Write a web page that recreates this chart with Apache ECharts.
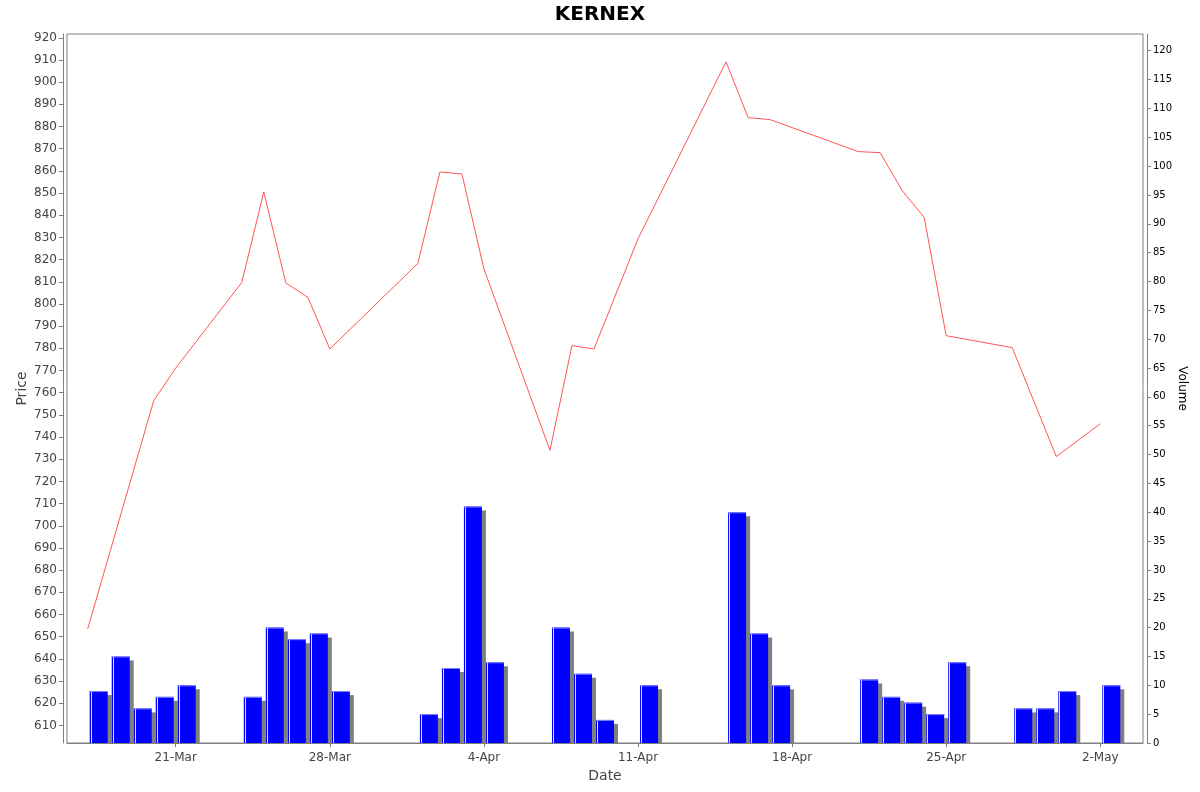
<!DOCTYPE html>
<html>
<head>
<meta charset="utf-8">
<title>KERNEX</title>
<script src="https://cdn.jsdelivr.net/npm/echarts@6/dist/echarts.min.js"></script>
<style>
html, body { margin: 0; padding: 0; background: #fff; }
#main { width: 1200px; height: 792px; }
</style>
</head>
<body>
<div id="main"></div>
<script>
// closing price per trading day
let priceDates = ['2025-03-17', '2025-03-20', '2025-03-21', '2025-03-24', '2025-03-25', '2025-03-26',
    '2025-03-27', '2025-03-28', '2025-04-01', '2025-04-02', '2025-04-03', '2025-04-04', '2025-04-07',
    '2025-04-08', '2025-04-09', '2025-04-11', '2025-04-15', '2025-04-16', '2025-04-17', '2025-04-21',
    '2025-04-22', '2025-04-23', '2025-04-24', '2025-04-25', '2025-04-28', '2025-04-30', '2025-05-02'];
let prices = [653.5, 756.4, 771.1, 809.7, 850.5, 809.5,
    803, 779.7, 818.3, 859.5, 858.6, 815.8, 734,
    781.2, 779.7, 829.4, 909.2, 884, 883.1, 868.7,
    868.2, 851.1, 839, 785.7, 780.3, 731.2, 746];

// volume per trading day
let volDates = ['2025-03-17', '2025-03-18', '2025-03-19', '2025-03-20', '2025-03-21',
    '2025-03-24', '2025-03-25', '2025-03-26', '2025-03-27', '2025-03-28',
    '2025-04-01', '2025-04-02', '2025-04-03', '2025-04-04',
    '2025-04-07', '2025-04-08', '2025-04-09', '2025-04-11',
    '2025-04-15', '2025-04-16', '2025-04-17',
    '2025-04-21', '2025-04-22', '2025-04-23', '2025-04-24', '2025-04-25',
    '2025-04-28', '2025-04-29', '2025-04-30', '2025-05-02'];
let volumes = [9, 15, 6, 8, 10,
    8, 20, 18, 19, 9,
    5, 13, 41, 14,
    20, 12, 4, 10,
    40, 19, 10,
    11, 8, 7, 5, 14,
    6, 6, 9, 10];

// axis ticks
let dateTicks = ['2025-03-21', '2025-03-28', '2025-04-04', '2025-04-11', '2025-04-18', '2025-04-25', '2025-05-02'];
let priceTicks = [];
for (let p = 610; p <= 920; p += 10) priceTicks.push(p);
let volTicks = [];
for (let v = 0; v <= 120; v += 5) volTicks.push(v);

const DAY = 86400000;
const months = ['Jan', 'Feb', 'Mar', 'Apr', 'May', 'Jun', 'Jul', 'Aug', 'Sep', 'Oct', 'Nov', 'Dec'];

function ts(s) {
    let p = s.split('-');
    return Date.UTC(+p[0], +p[1] - 1, +p[2]);
}

function fmtDate(v) {
    let d = new Date(v);
    return d.getUTCDate() + '-' + months[d.getUTCMonth()];
}

let lineData = priceDates.map((d, i) => [ts(d), prices[i]]);
// bars cover the whole day, so sit at midday
let barData = volDates.map((d, i) => [ts(d) + DAY / 2, volumes[i]]);

let xMin = ts('2025-03-17') - 0.94 * DAY;
let xMax = ts('2025-05-03') + 0.94 * DAY;

let barFill = {
    type: 'linear', x: 0, y: 0, x2: 1, y2: 0,
    colorStops: [
        { offset: 0, color: '#0000ff' },
        { offset: 0.05, color: '#0000ff' },
        { offset: 0.05, color: '#dcdcff' },
        { offset: 0.12, color: '#dcdcff' },
        { offset: 0.12, color: '#0000ff' },
        { offset: 1, color: '#0000ff' }
    ]
};

// blue bar with a hard grey drop shadow, like the old java charts
function renderBar(params, api) {
    let top = api.coord([api.value(0), api.value(1)]);
    let base = api.coord([api.value(0), 0]);
    let w = 18;
    let h = base[1] - top[1];
    return {
        type: 'group',
        children: [{
            type: 'rect',
            shape: { x: top[0] - w / 2 + 4, y: top[1] + 4, width: w, height: Math.max(h - 4, 0) },
            style: { fill: '#808080' }
        }, {
            type: 'rect',
            shape: { x: top[0] - w / 2, y: top[1], width: w, height: h },
            style: { fill: barFill }
        }, {
            type: 'rect',
            shape: { x: top[0] - w / 2, y: top[1], width: w, height: 1 },
            style: { fill: '#8080ff' }
        }]
    };
}

let myChart = echarts.init(document.getElementById('main'));
let option = {
    animation: false,
    backgroundColor: '#fff',
    title: {
        text: 'KERNEX',
        left: 'center',
        top: 0,
        textStyle: {
            fontFamily: 'DejaVu Sans',
            fontWeight: 'bold',
            fontSize: 20,
            color: '#000'
        }
    },
    grid: {
        left: 67,
        top: 34,
        width: 1076,
        height: 709,
        show: true,
        borderColor: '#808080',
        borderWidth: 1,
        backgroundColor: '#fff'
    },
    xAxis: {
        type: 'value',
        min: xMin,
        max: xMax,
        offset: 4,
        name: 'Date',
        nameLocation: 'middle',
        nameGap: 22,
        nameMoveOverlap: false,
        nameTextStyle: { fontFamily: 'DejaVu Sans', fontSize: 14, color: '#444' },
        axisLine: { show: true, lineStyle: { color: '#808080' } },
        axisTick: {
            show: true, length: 4, lineStyle: { color: '#808080' },
            customValues: dateTicks.map(ts)
        },
        axisLabel: {
            margin: 5,
            fontFamily: 'DejaVu Sans',
            fontSize: 12,
            color: '#444',
            customValues: dateTicks.map(ts),
            formatter: fmtDate
        },
        splitLine: { show: false }
    },
    yAxis: [{
        type: 'value',
        position: 'left',
        min: 602.07,
        max: 921.7,
        offset: 4,
        name: 'Price',
        nameLocation: 'middle',
        nameGap: 34,
        nameMoveOverlap: false,
        nameTextStyle: { fontFamily: 'DejaVu Sans', fontSize: 14, color: '#444' },
        axisLine: { show: true, lineStyle: { color: '#808080' } },
        axisTick: {
            show: true, length: 4, lineStyle: { color: '#808080' },
            customValues: priceTicks
        },
        axisLabel: {
            margin: 6,
            fontFamily: 'DejaVu Sans',
            fontSize: 12,
            color: '#444',
            customValues: priceTicks
        },
        splitLine: { show: false }
    }, {
        type: 'value',
        position: 'right',
        min: 0,
        max: 122.9,
        offset: 4,
        name: 'Volume',
        nameLocation: 'middle',
        nameRotate: -90,
        nameGap: 29,
        nameMoveOverlap: false,
        nameTextStyle: { fontFamily: 'DejaVu Sans', fontSize: 12, color: '#000' },
        axisLine: { show: true, lineStyle: { color: '#808080' } },
        axisTick: {
            show: true, length: 4, lineStyle: { color: '#808080' },
            customValues: volTicks
        },
        axisLabel: {
            margin: 6,
            fontFamily: 'DejaVu Sans',
            fontSize: 10,
            color: '#000',
            customValues: volTicks
        },
        splitLine: { show: false }
    }],
    series: [{
        name: 'Volume',
        type: 'custom',
        yAxisIndex: 1,
        renderItem: renderBar,
        encode: { x: 0, y: 1 },
        data: barData,
        clip: true
    }, {
        name: 'Price',
        type: 'line',
        yAxisIndex: 0,
        data: lineData,
        symbol: 'none',
        lineStyle: { color: '#ff5555', width: 1 },
        emphasis: { disabled: true },
        z: 5
    }]
};
myChart.setOption(option);
</script>
</body>
</html>
